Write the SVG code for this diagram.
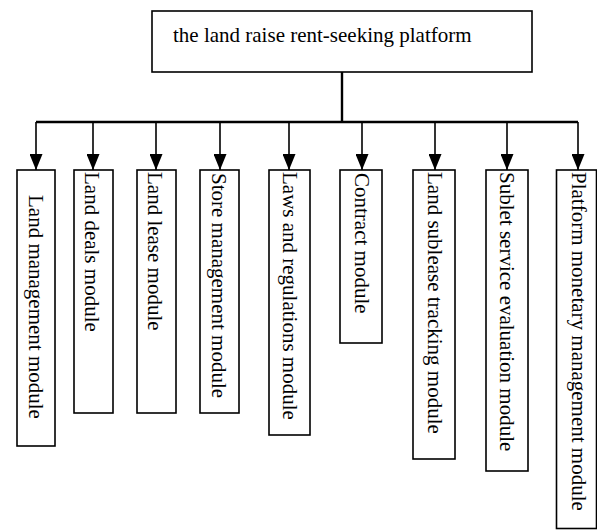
<svg xmlns="http://www.w3.org/2000/svg" width="597" height="530" viewBox="0 0 597 530">
<style>
.box{fill:#fff;stroke:#000;stroke-width:1.6}
.t{font-family:"Liberation Serif","Times New Roman",serif;font-size:21px;fill:#000}
.ln{fill:none;stroke:#000;stroke-width:1.6}
.bus{fill:none;stroke:#000;stroke-width:2.4}
</style>
<defs>
<marker id="ah" markerWidth="16" markerHeight="13" refX="16" refY="6.5" orient="auto" markerUnits="userSpaceOnUse" viewBox="0 0 16 13">
<path d="M0,0 L16,6.5 L0,13 Z" fill="#000"/>
</marker>
</defs>
<g id="root">
<rect class="box" x="152" y="11" width="380" height="61"/>
<text class="t" x="173" y="42">the land raise rent-seeking platform</text>
</g>
<g id="connectors">
<path class="bus" d="M342,72 V122 M36,122 H578"/>
<path class="ln" d="M36,122 V170" marker-end="url(#ah)"/>
<path class="ln" d="M93,122 V170" marker-end="url(#ah)"/>
<path class="ln" d="M156,122 V170" marker-end="url(#ah)"/>
<path class="ln" d="M220,122 V170" marker-end="url(#ah)"/>
<path class="ln" d="M289,122 V170" marker-end="url(#ah)"/>
<path class="ln" d="M362,122 V170" marker-end="url(#ah)"/>
<path class="ln" d="M435,122 V170" marker-end="url(#ah)"/>
<path class="ln" d="M507,122 V170" marker-end="url(#ah)"/>
<path class="ln" d="M578,122 V170" marker-end="url(#ah)"/>
</g>
<g id="n1">
<rect class="box" x="17" y="170" width="38" height="276"/>
<text class="t" transform="translate(29,195) rotate(90)">Land management module</text>
</g>
<g id="n2">
<rect class="box" x="74" y="170" width="39" height="243"/>
<text class="t" transform="translate(85,172) rotate(90)">Land deals module</text>
</g>
<g id="n3">
<rect class="box" x="137" y="170" width="39" height="243"/>
<text class="t" transform="translate(148,172) rotate(90)">Land lease module</text>
</g>
<g id="n4">
<rect class="box" x="200" y="170" width="39" height="243"/>
<text class="t" transform="translate(212,173) rotate(90)">Store management module</text>
</g>
<g id="n5">
<rect class="box" x="269" y="170" width="41" height="265"/>
<text class="t" transform="translate(283,172) rotate(90)">Laws and regulations module</text>
</g>
<g id="n6">
<rect class="box" x="340" y="170" width="42" height="173"/>
<text class="t" transform="translate(355,173) rotate(90)">Contract module</text>
</g>
<g id="n7">
<rect class="box" x="413" y="170" width="42" height="289"/>
<text class="t" transform="translate(428,172) rotate(90)">Land sublease tracking module</text>
</g>
<g id="n8">
<rect class="box" x="486" y="170" width="42" height="301"/>
<text class="t" transform="translate(500,172) rotate(90)">Sublet service evaluation module</text>
</g>
<g id="n9">
<rect class="box" x="556.5" y="170" width="40" height="358.5"/>
<text class="t" transform="translate(572,172) rotate(90)">Platform monetary management module</text>
</g>
</svg>
